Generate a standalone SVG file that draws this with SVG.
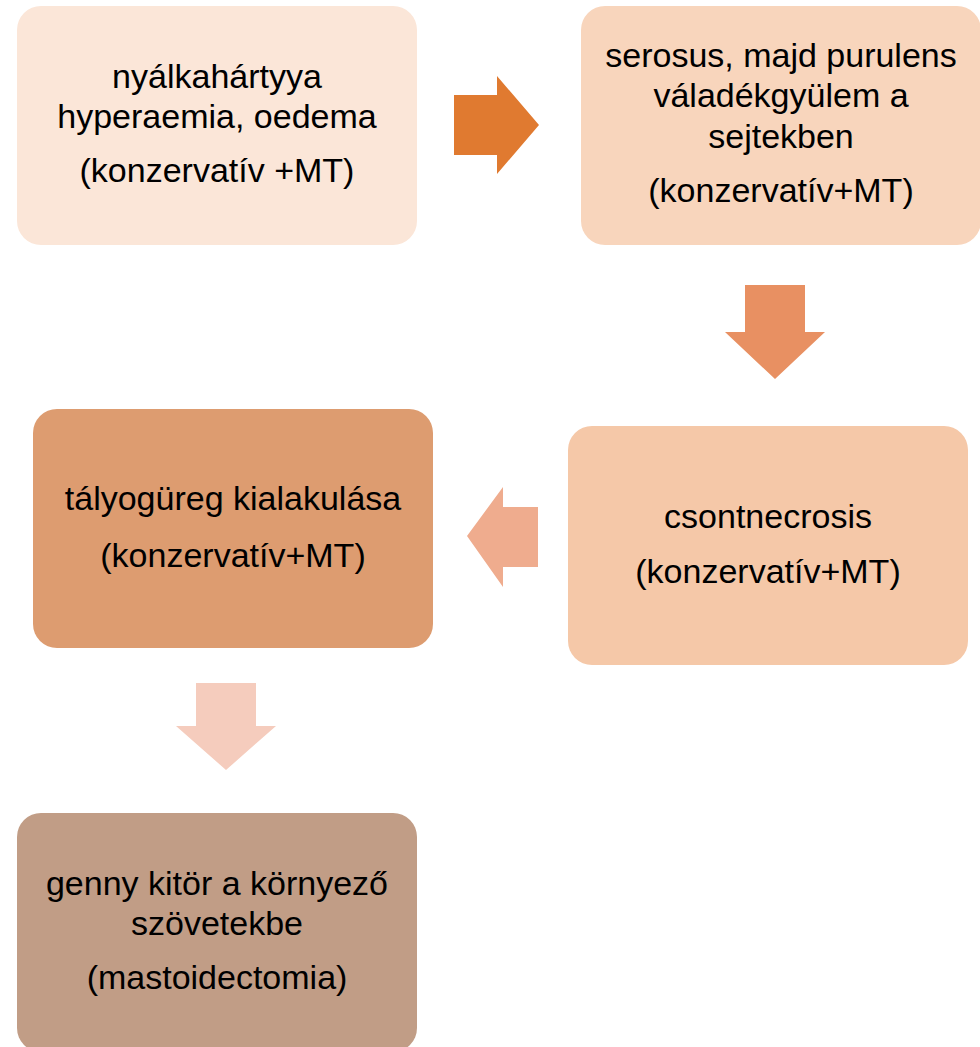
<svg xmlns="http://www.w3.org/2000/svg" width="980" height="1047" viewBox="0 0 980 1047">
  <style>
    .box { stroke: none; }
    .lbl { font-family: "Liberation Sans", Arial, sans-serif; font-size: 34px; fill: #000000; text-anchor: middle; }
  </style>
  <rect width="980" height="1047" fill="#ffffff"/>

  <!-- block arrows between stages -->
  <g id="connectors">
    <polygon points="454,95 497,95 497,76 539,125 497,174 497,155 454,155" fill="#E07A30"/>
    <polygon points="745,285 805,285 805,332 825,332 775,379 725,332 745,332" fill="#E89062"/>
    <polygon points="538,507 503,507 503,487 467,536 503,587 503,567 538,567" fill="#EFAC8E"/>
    <polygon points="196,683 256,683 256,726 276,726 226,770 176,726 196,726" fill="#F5CCBD"/>
  </g>

  <g id="node-1">
    <rect class="box" x="17" y="6" width="400" height="239" rx="24" fill="#FBE6D8"/>
    <text class="lbl" x="217" y="88">nyálkahártyya</text>
    <text class="lbl" x="217" y="128">hyperaemia, oedema</text>
    <text class="lbl" x="217" y="182">(konzervatív +MT)</text>
  </g>

  <g id="node-2">
    <rect class="box" x="581" y="6" width="400" height="239" rx="24" fill="#F8D5BC"/>
    <text class="lbl" x="781" y="67">serosus, majd purulens</text>
    <text class="lbl" x="781" y="107">váladékgyülem a</text>
    <text class="lbl" x="781" y="148">sejtekben</text>
    <text class="lbl" x="781" y="202">(konzervatív+MT)</text>
  </g>

  <g id="node-3">
    <rect class="box" x="568" y="426" width="400" height="239" rx="24" fill="#F5C8A8"/>
    <text class="lbl" x="768" y="528">csontnecrosis</text>
    <text class="lbl" x="768" y="583">(konzervatív+MT)</text>
  </g>

  <g id="node-4">
    <rect class="box" x="33" y="409" width="400" height="239" rx="24" fill="#DD9C70"/>
    <text class="lbl" x="233" y="510">tályogüreg kialakulása</text>
    <text class="lbl" x="233" y="567">(konzervatív+MT)</text>
  </g>

  <g id="node-5">
    <rect class="box" x="17" y="813" width="400" height="239" rx="24" fill="#C19D86"/>
    <text class="lbl" x="217" y="895">genny kitör a környező</text>
    <text class="lbl" x="217" y="935">szövetekbe</text>
    <text class="lbl" x="217" y="989">(mastoidectomia)</text>
  </g>
</svg>
